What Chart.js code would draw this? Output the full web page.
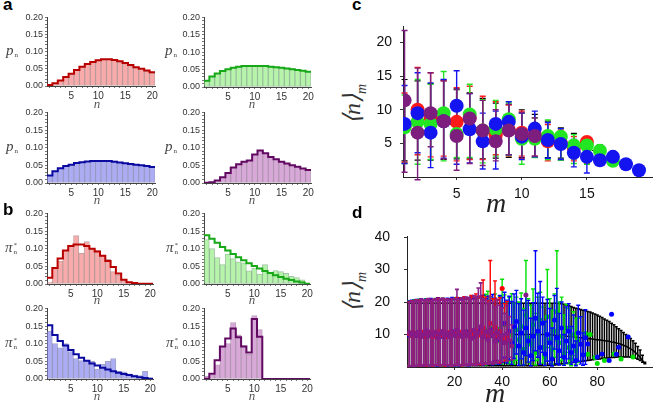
<!DOCTYPE html>
<html>
<head>
<meta charset="utf-8">
<script src="https://cdn.jsdelivr.net/npm/chart.js@4.4.1/dist/chart.umd.min.js"></script>
<style>
  body { margin: 0; background: #fff; }
  #wrap { position: relative; width: 660px; height: 408px; overflow: hidden; background: #fff; }
  canvas { position: absolute; }
  .lbl { position: absolute; font: bold 17px "Liberation Sans", Arial, sans-serif; line-height: 17px; color: #000; }
  .yl { position: absolute; font: italic 15px "Liberation Serif", "DejaVu Serif", serif; line-height: 16px; color: #444; white-space: nowrap; }
  .yl .st { display: inline-block; vertical-align: middle; font-size: 7px; line-height: 7px; margin-left: 1px; font-style: normal; }
  .xl { position: absolute; font: italic 13px "Liberation Serif", serif; color: #555; transform: translate(-50%, -50%); }
  .big { position: absolute; font: italic 28px "Liberation Serif", serif; color: #222; transform: translate(-50%, -50%); white-space: nowrap; }
  .rot { position: absolute; font: italic 24px "Liberation Serif", serif; color: #333; white-space: nowrap; transform: translate(-50%, -50%) rotate(-90deg); }
  .rot sub { font-size: 14px; }
</style>
</head>
<body>
<div id="wrap"></div>
<script>
// ---- panel a: p_n (bars = simulation, line = theory), n = 1..20
const aRedBars    = [0.003,0.008,0.016,0.026,0.036,0.047,0.056,0.064,0.070,0.075,0.078,0.078,0.075,0.070,0.065,0.059,0.053,0.048,0.043,0.038];
const aRedLine    = [0.003,0.008,0.016,0.026,0.036,0.047,0.056,0.064,0.070,0.075,0.078,0.078,0.076,0.072,0.067,0.061,0.055,0.050,0.045,0.040];
const aGreenBars  = [0.018,0.030,0.039,0.046,0.051,0.055,0.058,0.060,0.060,0.060,0.060,0.060,0.058,0.057,0.056,0.054,0.053,0.051,0.048,0.045];
const aGreenLine  = [0.018,0.030,0.039,0.046,0.051,0.055,0.058,0.060,0.060,0.060,0.060,0.060,0.058,0.057,0.055,0.053,0.051,0.049,0.047,0.044];
const aBlueBars   = [0.021,0.033,0.042,0.048,0.052,0.057,0.059,0.061,0.062,0.062,0.062,0.061,0.063,0.059,0.056,0.054,0.052,0.050,0.048,0.045];
const aBlueLine   = [0.021,0.033,0.042,0.048,0.052,0.057,0.059,0.061,0.062,0.062,0.062,0.062,0.060,0.058,0.056,0.054,0.052,0.050,0.048,0.045];
const aPurpBars   = [0.001,0.002,0.007,0.016,0.028,0.044,0.053,0.060,0.064,0.081,0.092,0.084,0.074,0.067,0.060,0.055,0.050,0.046,0.041,0.037];
const aPurpLine   = [0.001,0.002,0.007,0.016,0.028,0.044,0.053,0.060,0.064,0.081,0.092,0.084,0.074,0.067,0.060,0.055,0.050,0.046,0.041,0.037];

// ---- panel b: pi*_n
const bRedBars    = [0.005,0.045,0.065,0.095,0.110,0.137,0.087,0.120,0.100,0.095,0.080,0.070,0.035,0.025,0.010,0.003,0.002,0.002,0.001,0.001];
const bRedLine    = [0.018,0.045,0.072,0.095,0.108,0.112,0.112,0.108,0.100,0.092,0.080,0.065,0.048,0.030,0.012,0.005,0.003,0.001,0.001,0.001];
const bGreenBars  = [0.126,0.100,0.075,0.055,0.085,0.072,0.063,0.060,0.037,0.045,0.028,0.055,0.030,0.038,0.035,0.030,0.022,0.018,0.012,0.002];
const bGreenLine  = [0.138,0.128,0.117,0.105,0.095,0.085,0.076,0.067,0.059,0.051,0.044,0.037,0.031,0.025,0.020,0.015,0.011,0.007,0.004,0.001];
const bBlueBars   = [0.136,0.100,0.088,0.100,0.078,0.058,0.052,0.050,0.050,0.028,0.042,0.050,0.058,0.022,0.020,0.015,0.012,0.010,0.022,0.003];
const bBlueLine   = [0.152,0.125,0.108,0.095,0.082,0.070,0.060,0.052,0.044,0.038,0.032,0.027,0.022,0.018,0.014,0.011,0.008,0.005,0.003,0.001];
const bPurpBars   = [0.008,0.012,0.040,0.090,0.100,0.160,0.125,0.095,0.070,0.180,0.140,0,0,0,0,0,0,0,0,0];
const bPurpLine   = [0.001,0.015,0.053,0.092,0.115,0.143,0.118,0.092,0.075,0.170,0.120,0,0,0,0,0,0,0,0,0];

// ---- panel c: <n>_m for m = 1..k
const cRedMean  = [7.6,10.0,8.8,8.6,8.2,8.8,6.9,6.2,7.0,6.6,6.2,5.3,5.0,4.3,5.2];
const cRedHi    = [12.5,16.3,15.5,14.3,13.3,13.5,12.0,11.2,10.7,9.8,8.8,7.8,7.0,6.0,5.6];
const cRedLo    = [2.2,3.3,3.0,3.1,2.4,2.6,2.6,3.3,3.1,3.1,3.1,2.4,2.5,2.4,2.0];
const cGreenMean = [7.4,8.2,7.9,9.5,6.4,9.3,6.9,7.1,8.6,5.7,5.7,6.1,6.0,4.7,4.7,3.9,2.4];
const cGreenHi   = [12.2,14.5,13.8,15.7,13.0,13.8,11.5,11.4,11.0,9.5,8.8,8.5,7.2,6.3,5.8,4.5,3.0];
const cGreenLo   = [2.0,1.9,2.6,2.4,2.9,2.9,2.1,3.1,3.2,1.9,2.9,2.6,2.5,2.0,1.9,2.4,1.8];
const cBlueMean = [7.9,9.5,6.6,8.3,10.6,7.1,5.3,7.9,8.2,6.0,7.2,5.5,4.9,3.6,3.0,2.5,3.0,1.9,1.0];
const cBlueHi   = [13.6,15.5,14.0,14.5,15.8,12.4,9.5,9.8,11.2,9.5,9.8,8.1,7.2,5.6,5.7,3.6,3.3,1.9,1.0];
const cBlueLo   = [2.0,3.6,1.4,2.8,1.9,2.1,1.2,1.2,3.3,2.6,3.0,2.8,2.6,1.5,0.6,1.9,2.7,1.9,1.0];
const cPurpMean = [11.4,6.6,9.5,8.3,6.1,8.7,6.9,5.3,6.9,6.4,6.1];
const cPurpHi   = [21.8,16.2,15.5,14.3,13.0,12.4,11.4,10.0,10.8,9.6,8.8];
const cPurpLo   = [0.7,-0.4,4.5,2.7,1.0,2.0,1.7,2.4,3.3,2.8,3.1];
const cTheory   = [8.3,8.2,8.1,7.9,7.7,7.5,7.2,6.9,6.6,6.2,5.9,5.5,5.1,4.7,4.3,3.5,2.7,1.9,1.0];
const cTheoryHi = [14.5,14.3,13.9,14.4,13.1,12.5,11.7,11.0,10.8,10.0,9.3,8.3,7.3,6.5,5.8,4.8,3.8,2.6,1.2];
const cTheoryLo = [2.4,2.5,2.5,2.6,2.7,2.7,2.7,2.8,2.9,2.9,2.9,2.9,2.8,2.7,2.3,2.0,1.6,1.2,0.8];

// ---- panel d: <n>_m for m = 1..k
const dPurpMean = [10.6,9.9,10.3,9.7,10.8,9.4,10.1,11.2,9.6,10.4,9.9,10.7,9.0,10.3,11.0,9.8,10.2,9.2,10.7,9.8,11.5,10.0,9.4,10.9,9.6,10.3,8.8,11.3,9.9,10.6,12.4,9.2,10.8,8.5,11.0,9.7,7.9,10.5,8.9,9.8,7.5,10.2,8.2,6.5];
const dPurpHi   = [20.0,20.3,20.1,20.6,20.2,20.9,20.4,20.6,21.1,20.3,20.7,21.0,20.5,20.9,21.2,20.6,20.8,20.4,21.1,21.0,23.9,20.7,21.3,20.9,21.5,21.2,20.8,22.0,21.5,24.3,25.9,21.0,20.5,19.5,21.7,20.0,18.5,20.6,19.0,18.2,16.5,18.8,15.5,13.0];
const dPurpLo   = [0.2,0.3,0.2,0.4,0.3,0.5,0.3,0.6,0.4,0.3,0.5,0.4,0.6,0.3,0.5,0.7,0.4,0.5,0.3,0.6,0.8,0.4,0.5,0.7,0.4,0.9,0.6,0.8,0.5,1.0,1.2,0.7,1.1,0.9,1.3,1.0,1.5,1.2,2.0,1.6,2.5,1.8,3.0,2.2];
const dPurpDotM = [50];
const dPurpDotY = [22.2];

const dRedMean = [10.2,9.7,10.5,9.9,10.1,10.8,9.5,10.3,9.8,10.6,9.4,10.2,10.9,9.7,10.0,10.4,9.3,10.7,9.9,10.2,10.5,9.6,10.8,9.9,10.3,9.5,10.9,10.1,11.2,9.8,10.6,12.0,10.4,9.1,13.5,10.2,12.2,9.6,11.0,24.2,8.7,9.3];
const dRedHi   = [20.1,20.4,20.2,20.7,20.3,20.8,20.5,20.6,21.0,20.4,20.8,20.9,21.2,20.6,21.0,20.7,20.9,20.5,21.0,21.1,21.4,20.8,21.2,21.6,21.0,21.3,22.0,21.5,22.5,21.2,21.8,26.8,21.5,20.5,32.8,21.0,26.5,20.8,21.3,24.2,19.5,20.2];
const dRedLo   = [0.3,0.4,0.2,0.5,0.3,0.4,0.6,0.3,0.5,0.4,0.3,0.6,0.5,0.4,0.7,0.3,0.5,0.6,0.4,0.5,0.7,0.6,0.4,0.8,0.5,0.7,0.9,0.6,1.0,0.8,0.7,1.2,0.9,1.1,1.4,1.0,1.6,1.3,1.2,24.2,1.8,2.0];

const dBlueMean = [9.8,10.4,10.0,9.6,10.7,9.9,10.2,9.5,10.8,10.1,9.7,10.5,9.9,10.3,9.4,10.6,10.0,9.8,10.9,10.2,9.6,10.4,10.1,9.7,10.8,9.9,10.3,9.5,10.6,10.0,
                   11.2,9.4,10.8,8.9,11.5,9.6,12.0,8.5,10.3,9.0,13.5,8.2,11.0,7.4,12.5,
                   14.0,6.5,10.5,4.5,12.0,8.0,3.5,9.5,15.0,11.0,6.0,13.5,4.0,10.0,7.5,2.5,14.5,
                   9.0,5.0,12.0,3.0,8.0,11.0,4.5,6.5,2.0,10.5,7.0,3.8,9.0];
const dBlueHi   = [20.3,20.6,20.2,20.8,20.4,21.0,20.5,20.9,20.7,21.1,20.6,20.8,21.3,20.5,21.0,20.7,21.2,20.9,21.4,20.8,21.0,21.3,20.6,21.5,21.2,20.9,21.6,21.0,21.3,21.8,
                   21.5,22.1,21.0,21.8,20.5,22.3,21.2,20.8,22.0,21.4,23.0,20.6,21.8,20.2,22.5,
                   23.6,19.5,21.0,17.5,22.0,20.5,15.0,19.8,35.8,22.7,26.3,21.5,14.0,20.8,18.0,12.0,22.0,
                   24.2,16.5,20.0,10.0,18.5,19.5,12.5,16.0,8.0,19.0,15.5,10.5,17.6];
const dBlueLo   = [0.2,0.4,0.3,0.5,0.2,0.6,0.3,0.4,0.5,0.3,0.6,0.4,0.3,0.5,0.7,0.4,0.3,0.6,0.5,0.4,0.7,0.3,0.6,0.5,0.8,0.4,0.6,0.9,0.5,0.7,
                   1.0,0.6,1.2,0.8,1.5,0.7,2.0,1.0,0.9,1.4,3.0,1.2,2.2,0.8,2.6,
                   4.0,0.5,2.5,0.6,3.5,1.5,0.4,2.0,5.0,3.0,0.8,4.5,0.5,1.8,0.9,0.3,5.5,
                   1.0,0.6,3.0,0.5,1.2,2.5,0.8,1.5,0.4,1.8,0.9,0.5,0.8];
const dBlueDotM = [76,80,82,85,86,88,89,93];
const dBlueDotY = [7.1,3.1,4.0,2.0,16.2,3.9,6.1,9.2];

const dGreenMean = [10.1,9.6,10.5,9.9,10.2,9.7,10.8,10.0,9.5,10.4,9.8,10.6,10.1,9.4,10.7,9.9,10.3,10.0,9.6,10.8,10.2,9.8,10.5,9.7,10.9,10.0,9.5,10.6,9.9,10.3,
                    10.8,9.3,11.5,8.8,12.0,9.5,10.6,8.0,11.8,9.2,13.0,7.5,10.5,9.8,6.5,
                    11.5,8.5,12.5,5.5,16.0,9.0,7.0,13.0,4.5,10.5,14.5,6.0,3.0,15.5,8.5,5.5,11.0,
                    17.0,7.5,9.5,4.0,12.0,6.0,2.5,10.0,5.0,8.0];
const dGreenHi   = [20.4,20.1,20.7,20.3,20.9,20.5,20.6,21.0,20.4,20.8,20.6,21.1,20.5,20.9,21.2,20.7,20.8,21.0,20.6,21.3,20.9,21.1,20.7,21.4,21.0,20.8,21.5,21.1,20.9,21.6,
                    21.3,21.9,22.4,23.3,21.5,21.0,22.5,20.6,21.8,27.0,22.2,20.0,21.4,22.6,19.5,
                    21.5,20.0,22.8,18.0,32.8,21.0,19.0,24.0,16.5,21.5,23.0,18.5,14.0,30.0,21.0,17.5,22.5,
                    35.8,20.0,21.5,16.0,19.3,18.0,12.0,17.0,15.0,15.0];
const dGreenLo   = [0.3,0.5,0.2,0.4,0.6,0.3,0.5,0.4,0.7,0.3,0.5,0.6,0.4,0.8,0.3,0.6,0.5,0.4,0.7,0.5,0.6,0.4,0.8,0.5,0.7,0.9,0.5,0.6,1.0,0.7,
                    0.8,1.1,0.6,1.3,0.9,1.5,1.0,1.2,1.8,0.9,2.2,1.4,1.0,1.6,0.8,
                    2.0,1.2,2.5,0.7,3.5,1.5,1.0,4.0,0.6,2.0,5.5,1.2,0.5,6.0,1.8,0.9,3.0,
                    8.0,1.5,2.0,0.6,4.5,1.0,0.4,3.5,0.8,1.5];
const dGreenDotM = [75,76,77,79,80,83,87,90,95];
const dGreenDotY = [10.3,3.9,10.0,2.9,1.1,2.0,4.0,2.5,3.1];

// theory, m = 1..100
const dTheory = [10,10,10,10,10,10,10,10,10,10,10,10,10,10,10,10,10,10,10,10,
                 10,10,10,10,10,10,10,10,10,10,10,10,10,10,10,10,10,10,10,10,
                 10,10,10,10,10,10,10,10,10,10,10,10,10,10,10,10,10,10,10,10,
                 9.9,9.8,9.8,9.7,9.6,9.6,9.5,9.4,9.4,9.3,9.2,9.1,9.0,8.9,8.9,8.8,8.7,8.6,8.5,8.4,
                 8.3,8.2,8.1,8.0,7.9,7.7,7.6,7.4,7.2,7.0,6.7,6.4,6.0,5.6,5.1,4.5,3.8,3.0,2.0,1.0];
const dTheoryHi = [19.6,19.6,19.6,19.6,19.6,19.6,19.6,19.6,19.6,19.6,19.6,19.6,19.6,19.6,19.6,19.6,19.6,19.6,19.6,19.6,
                   19.6,19.6,19.6,19.6,19.6,19.6,19.6,19.6,19.6,19.6,19.6,19.6,19.6,19.6,19.6,19.6,19.6,19.6,19.6,19.6,
                   19.6,19.6,19.6,19.6,19.6,19.6,19.6,19.6,19.6,19.6,19.6,19.6,19.6,19.6,19.6,19.6,19.6,19.6,19.6,19.6,
                   19.6,19.6,19.6,19.6,19.5,19.3,19.1,18.9,18.6,18.3,18.1,17.9,17.7,17.5,17.3,17.1,16.9,16.6,16.3,16.0,
                   15.6,15.2,14.8,14.4,14.0,13.5,13.0,12.4,11.8,11.2,10.6,10.0,9.4,8.8,8.1,7.3,6.3,5.2,3.6,1.5];
const dTheoryLo = [0.4,0.4,0.4,0.4,0.4,0.4,0.4,0.4,0.4,0.4,0.4,0.4,0.4,0.4,0.4,0.4,0.4,0.4,0.4,0.4,
                   0.4,0.4,0.4,0.4,0.4,0.4,0.4,0.4,0.4,0.4,0.4,0.4,0.4,0.4,0.4,0.4,0.4,0.4,0.4,0.4,
                   0.4,0.4,0.4,0.4,0.4,0.4,0.4,0.4,0.4,0.4,0.4,0.4,0.4,0.4,0.4,0.4,0.4,0.4,0.45,0.5,
                   0.55,0.6,0.7,0.8,0.9,1.0,1.1,1.2,1.3,1.4,1.5,1.6,1.7,1.8,1.9,2.0,2.1,2.2,2.3,2.4,
                   2.5,2.6,2.7,2.8,2.85,2.9,2.95,3.0,3.05,3.1,3.1,3.1,3.05,3.0,2.9,2.7,2.4,2.0,1.5,1.0];

const nTicks = [1,2,3,4,5,6,7,8,9,10,11,12,13,14,15,16,17,18,19,20];
const pTicks = [0,0.01,0.02,0.03,0.04,0.05,0.06,0.07,0.08,0.09,0.10,0.11,0.12,0.13,0.14,0.15,0.16,0.17,0.18,0.19,0.20];

const RED = { fill: '#f9abab', edge: 'rgba(150,90,90,0.55)', line: '#b80000', dot: '#ff1a1a' };
const GREEN = { fill: '#b6f4ac', edge: 'rgba(90,150,90,0.55)', line: '#17a817', dot: '#22e622' };
const BLUE = { fill: '#acacf4', edge: 'rgba(90,90,160,0.55)', line: '#0a0aa0', dot: '#1414f0' };
const PURP = { fill: '#d8a8d8', edge: 'rgba(130,80,130,0.55)', line: '#620a62', dot: '#7d1d7d' };

Chart.defaults.font.family = '"Liberation Sans", Arial, sans-serif';
const wrap = document.getElementById('wrap');

function mk(left, top, w, h) {
    const c = document.createElement('canvas');
    c.width = w; c.height = h;
    c.style.left = left + 'px'; c.style.top = top + 'px';
    wrap.appendChild(c);
    return c;
}

function hist(box, bars, line, col) {
    const padL = 34, padT = 6, padR = 8, padB = 16;
    const cv = mk(box.L - padL, box.T - padT, box.R - box.L + padL + padR, box.B - box.T + padT + padB);
    const step = line.map((v, i) => ({ x: i + 0.5, y: v }));
    step.push({ x: line.length + 0.5, y: line[line.length - 1] });
    new Chart(cv, {
        type: 'bar',
        data: {
            datasets: [
                { type: 'line', data: step, stepped: true, borderColor: col.line, borderWidth: 2, pointRadius: 0, fill: false },
                { type: 'bar', data: bars.map((v, i) => ({ x: i + 1, y: v })), backgroundColor: col.fill,
                  borderColor: col.edge, borderWidth: 1, borderSkipped: false, barPercentage: 1, categoryPercentage: 1 }
            ]
        },
        options: {
            responsive: false, animation: false,
            layout: { padding: { top: padT, right: padR, left: 0, bottom: 0 } },
            plugins: { legend: { display: false }, tooltip: { enabled: false } },
            scales: {
                x: {
                    type: 'linear', min: 0.5, max: 20.5, offset: false,
                    afterFit: s => { s.height = padB; },
                    afterBuildTicks: s => { s.ticks = nTicks.map(v => ({ value: v })); },
                    ticks: { autoSkip: false, maxRotation: 0, padding: 2, color: '#333', font: { size: 10 },
                             callback: v => (v % 5 === 0 ? String(v) : '') },
                    grid: { drawOnChartArea: false, offset: false, tickLength: 2, color: '#777' },
                    border: { color: '#444' }
                },
                y: {
                    min: 0, max: 0.2,
                    afterFit: s => { s.width = padL; },
                    afterBuildTicks: s => { s.ticks = pTicks.map(v => ({ value: v })); },
                    ticks: { autoSkip: false, padding: 2, color: '#333', font: { size: 9 },
                             callback: v => (Math.round(v * 100) % 5 === 0 ? v.toFixed(2) : '') },
                    grid: { drawOnChartArea: false, tickLength: 2, color: '#777' },
                    border: { color: '#444' }
                }
            }
        }
    });
}

hist({ L: 47, R: 155, T: 16, B: 86 }, aRedBars, aRedLine, RED);
hist({ L: 204, R: 311, T: 16, B: 87 }, aGreenBars, aGreenLine, GREEN);
hist({ L: 47, R: 155, T: 111, B: 183 }, aBlueBars, aBlueLine, BLUE);
hist({ L: 204, R: 311, T: 111, B: 183 }, aPurpBars, aPurpLine, PURP);
hist({ L: 47, R: 153, T: 212, B: 284 }, bRedBars, bRedLine, RED);
hist({ L: 204, R: 310, T: 212, B: 284 }, bGreenBars, bGreenLine, GREEN);
hist({ L: 47, R: 153, T: 307, B: 379 }, bBlueBars, bBlueLine, BLUE);
hist({ L: 204, R: 310, T: 307, B: 379 }, bPurpBars, bPurpLine, PURP);

// ---- helpers for scatter panels
function pts(mean, start) { return mean.map((v, i) => ({ x: i + (start || 1), y: v })); }
function dots(ms, ys) { return ms.map((m, i) => ({ x: m, y: ys[i] })); }
function errBars(lo, hi, color, w, cap, clip) {
    const data = [];
    lo.forEach((v, i) => { data.push({ x: i + 1, y: v }, { x: i + 1, y: hi[i] }, { x: i + 1, y: null }); });
    return { data, showLine: true, spanGaps: false, borderColor: color, borderWidth: w,
             pointStyle: 'line', pointRadius: cap, pointBorderColor: color, pointBorderWidth: w, clip: clip || 2 };
}
function marks(data, color, r) {
    return { data, pointRadius: r, pointBackgroundColor: color, pointBorderWidth: 0, showLine: false };
}
function scatterPanel(box, pad, xr, yr, xt, yt, datasets) {
    const cv = mk(box.L - pad.yW, box.T - pad.top, box.R - box.L + pad.yW + pad.right, box.B - box.T + pad.top + pad.xH);
    new Chart(cv, {
        type: 'scatter',
        data: { datasets },
        options: {
            responsive: false, animation: false,
            layout: { padding: { top: pad.top, right: pad.right, left: 0, bottom: 0 } },
            plugins: { legend: { display: false }, tooltip: { enabled: false } },
            scales: {
                x: {
                    type: 'linear', min: xr[0], max: xr[1],
                    afterFit: s => { s.height = pad.xH; },
                    afterBuildTicks: s => { s.ticks = xt.map(v => ({ value: v })); },
                    ticks: { autoSkip: false, maxRotation: 0, padding: pad.xp, color: '#111', font: { size: 14 } },
                    grid: { drawOnChartArea: false, tickLength: 3, color: '#333' },
                    border: { color: '#222' }
                },
                y: {
                    min: yr[0], max: yr[1],
                    afterFit: s => { s.width = pad.yW; },
                    afterBuildTicks: s => { s.ticks = yt.map(v => ({ value: v })); },
                    ticks: { autoSkip: false, padding: pad.yp, color: '#111', font: { size: 14 } },
                    grid: { drawOnChartArea: false, tickLength: 3, color: '#333' },
                    border: { color: '#222' }
                }
            }
        }
    });
}

// ---- panel c
scatterPanel({ L: 403, R: 653, T: 18, B: 177 }, { yW: 32, top: 8, right: 6, xH: 26, xp: 6, yp: 8 },
    [0.88, 20], [0, 22.4], [5, 10, 15], [5, 10, 15, 20], [
        marks(pts(cPurpMean), PURP.dot, 7),
        marks(pts(cBlueMean), BLUE.dot, 7),
        marks(pts(cGreenMean), GREEN.dot, 7),
        marks(pts(cRedMean), RED.dot, 7),
        { data: pts(cTheory), showLine: true, borderColor: '#000', borderWidth: 1, borderDash: [3, 2], pointRadius: 0 },
        errBars(cPurpLo, cPurpHi, PURP.dot, 1.4, 3, 6),
        errBars(cBlueLo, cBlueHi, BLUE.dot, 1.4, 3),
        errBars(cGreenLo, cGreenHi, GREEN.dot, 1.4, 3),
        errBars(cRedLo, cRedHi, RED.dot, 1.4, 3),
        errBars(cTheoryLo, cTheoryHi, '#000', 1.2, 3)
    ]);

// ---- panel d
scatterPanel({ L: 407, R: 652, T: 222, B: 367 }, { yW: 32, top: 8, right: 6, xH: 26, xp: 4, yp: 14 },
    [0, 103], [0, 40.2], [20, 40, 60, 80], [10, 20, 30, 40], [
        marks(pts(dPurpMean).concat(dots(dPurpDotM, dPurpDotY)), '#861a86', 2.5),
        errBars(dPurpLo, dPurpHi, '#8a1f8a', 1.6, 2),
        marks(pts(dRedMean), '#ff0000', 2.5),
        errBars(dRedLo, dRedHi, '#ff0000', 1.4, 2),
        marks(pts(dBlueMean).concat(dots(dBlueDotM, dBlueDotY)), '#0000ff', 2.5),
        errBars(dBlueLo, dBlueHi, '#0000ff', 1.4, 2),
        marks(pts(dGreenMean).concat(dots(dGreenDotM, dGreenDotY)), '#00e000', 2.5),
        errBars(dGreenLo, dGreenHi, '#00e000', 1.4, 2),
        { data: pts(dTheory), showLine: true, borderColor: '#000', borderWidth: 1.5, pointRadius: 0 },
        errBars(dTheoryLo, dTheoryHi, '#000', 1.5, 1.5)
    ]);

// ---- text labels
function add(cls, html, style) {
    const d = document.createElement('div');
    d.className = cls; d.innerHTML = html;
    Object.assign(d.style, style);
    wrap.appendChild(d);
}
add('lbl', 'a', { left: '3px', top: '-4px' });
add('lbl', 'b', { left: '3px', top: '201px' });
add('lbl', 'c', { left: '352px', top: '-4px' });
add('lbl', 'd', { left: '352px', top: '204px' });

const P = '<i>p</i><span class="st"><br>n</span>';
const PI = '<i>π</i><span class="st">*<br>n</span>';
[[6, 51, P], [165, 51, P], [6, 147, P], [165, 147, P],
 [5, 248, PI], [166, 248, PI], [5, 343, PI], [166, 343, PI]].forEach(([x, cy, h]) =>
    add('yl', h, { left: x + 'px', top: (cy - 9) + 'px' }));

[[97, 104], [252, 104], [97, 200], [252, 200], [97, 300], [252, 300], [97, 396], [252, 396]].forEach(([x, y]) =>
    add('xl', 'n', { left: x + 'px', top: y + 'px' }));

add('big', 'm', { left: '496px', top: '203px' });
add('big', 'm', { left: '495px', top: '393px' });
add('rot', '⟨n⟩<sub>m</sub>', { left: '354px', top: '104px' });
add('rot', '⟨n⟩<sub>m</sub>', { left: '354px', top: '292px' });
</script>
</body>
</html>
